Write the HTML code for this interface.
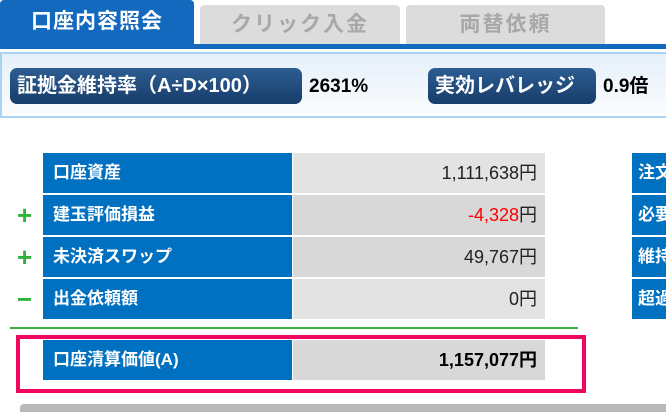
<!DOCTYPE html>
<html><head><meta charset="utf-8"><style>
*{margin:0;padding:0;box-sizing:border-box}
body{width:666px;height:410px;overflow:hidden;background:#fff;font-family:"Liberation Sans","Noto Sans CJK JP",sans-serif;position:relative}
.a{position:absolute}
.tab{position:absolute;top:5px;height:40px;background:#dcdcdc;color:#a8a8a8;font-size:21px;font-weight:bold;text-align:center;line-height:40px;border-radius:4px 4px 0 0;letter-spacing:2px}
.badge{position:absolute;top:68px;height:36px;background:linear-gradient(#2d5d92,#173d6a);border-radius:7px;color:#fff;font-size:20px;font-weight:bold;line-height:36px;padding-left:7px}
.val{position:absolute;top:68px;line-height:38px;font-size:19px;font-weight:bold;color:#000}
.lab{position:absolute;left:43px;width:249px;height:40px;background:#0070c0;color:#fff;font-weight:bold;font-size:17px;line-height:40px;padding-left:10px}
.num{position:absolute;left:293px;width:252px;height:40px;background:#e3e3e3;color:#222;font-size:18px;line-height:40px;text-align:right;padding-right:8px}
.r{position:absolute;left:632px;width:40px;height:40px;background:#0070c0;color:#fff;font-weight:bold;font-size:17px;line-height:40px;padding-left:6px;overflow:hidden}
.sg{position:absolute;left:17px;color:#2bb33a;font-size:26px;font-weight:bold;line-height:40px}
</style></head><body>
<div class="a" style="left:0;top:0;width:194px;height:46px;background:#1269bd;border-radius:4px 4px 0 0;color:#fff;font-size:21px;font-weight:bold;line-height:44px;text-align:center;letter-spacing:1px">口座内容照会</div>
<div class="tab" style="left:200px;width:200px">クリック入金</div>
<div class="tab" style="left:406px;width:199px">両替依頼</div>
<div class="a" style="left:0;top:44px;width:666px;height:5px;background:#1269bd"></div>
<div class="a" style="left:0;top:52px;width:670px;height:66px;border:2px solid #a9d3f3;background:linear-gradient(#e6f0fa,#fafcfe)"></div>
<div class="badge" style="left:10px;width:292px">証拠金維持率（A÷D×100）</div>
<div class="val" style="left:309px">2631%</div>
<div class="badge" style="left:428px;width:168px">実効レバレッジ</div>
<div class="val" style="left:603px">0.9倍</div>

<div class="lab" style="top:153px">口座資産</div><div class="num" style="top:153px">1,111,638円</div>
<div class="lab" style="top:195px">建玉評価損益</div><div class="num" style="top:195px;background:#d8d8d8"><span style="color:#f00">-4,328</span>円</div>
<div class="lab" style="top:237px">未決済スワップ</div><div class="num" style="top:237px;background:#d8d8d8">49,767円</div>
<div class="lab" style="top:279px">出金依頼額</div><div class="num" style="top:279px">0円</div>
<div class="sg" style="top:195px">+</div>
<div class="sg" style="top:237px">+</div>
<div class="sg" style="top:279px">−</div>
<div class="r" style="top:153px">注文</div><div class="r" style="top:195px">必要</div><div class="r" style="top:237px">維持</div><div class="r" style="top:279px">超過</div>
<div class="a" style="left:10px;top:327px;width:568px;height:2px;background:#3cb043"></div>
<div class="a" style="left:16px;top:335px;width:570px;height:58px;border:4px solid #f0065f"></div>
<div class="lab" style="top:340px">口座清算価値(A)</div><div class="num" style="top:340px;background:#d8d8d8;font-weight:bold;color:#000">1,157,077円</div>
<div class="a" style="left:20px;top:404px;width:646px;height:8px;background:#b9b9b9;border-radius:4px 0 0 0"></div>
</body></html>
